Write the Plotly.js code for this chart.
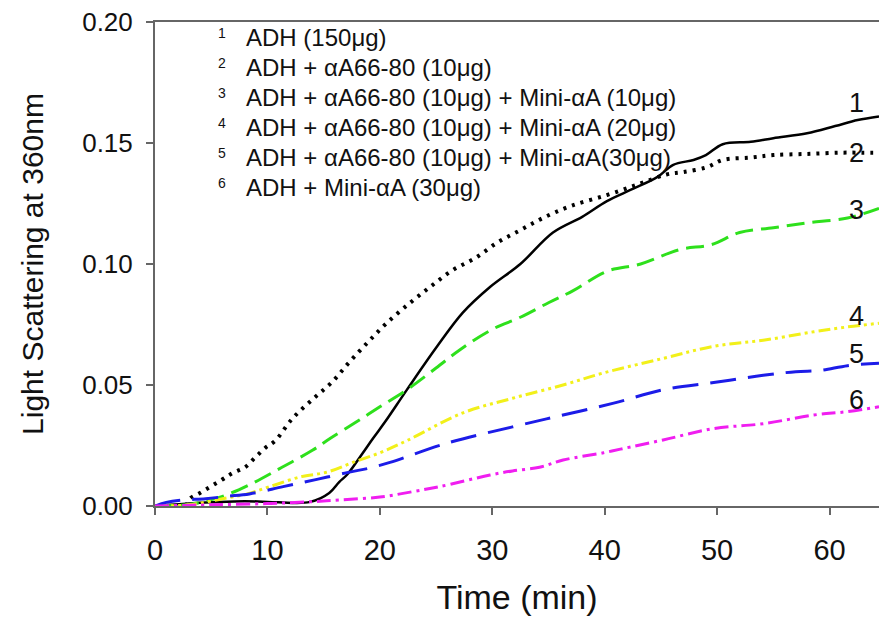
<!DOCTYPE html>
<html>
<head>
<meta charset="utf-8">
<script src="https://cdn.plot.ly/plotly-3.0.1.min.js"></script>
<style>html,body{margin:0;padding:0;background:#fff;}#chart{width:879px;height:617px;}</style>
</head>
<body>
<div id="chart"></div>
<script>
// Series 1: ADH (150µg)
const x1 = [0, 3, 5, 8, 11, 13.8, 15.5, 16.4, 17.1, 18.5, 19.4, 20.5, 22.4, 25.1, 27.4, 29.8, 32.5, 35.4, 38, 40.2, 42.5, 44.7, 46.1, 47.9, 49, 50.5, 53, 55, 58, 60.5, 62.5, 64.4];
const y1 = [0, 0.001, 0.0015, 0.002, 0.0015, 0.0017, 0.0054, 0.010, 0.013, 0.022, 0.028, 0.035, 0.048, 0.066, 0.080, 0.0905, 0.100, 0.113, 0.1195, 0.126, 0.131, 0.136, 0.141, 0.143, 0.145, 0.1495, 0.1505, 0.152, 0.154, 0.157, 0.1595, 0.161];
// Series 2: ADH + αA66-80 (10µg)
const x2 = [2.8, 3.1, 4.0, 5.9, 6.9, 8.0, 8.9, 9.8, 10.7, 12.2, 14.0, 15.7, 17.3, 19.0, 20.7, 22.7, 24.6, 26.5, 28.5, 30.5, 32.5, 34.5, 37, 40.2, 43, 45.5, 47, 49.1, 50.5, 53, 55, 58, 61, 63, 64.4];
const y2 = [0, 0.003, 0.0054, 0.0107, 0.0136, 0.016, 0.020, 0.024, 0.027, 0.036, 0.044, 0.051, 0.0595, 0.068, 0.076, 0.084, 0.091, 0.0975, 0.1025, 0.109, 0.114, 0.119, 0.124, 0.1285, 0.133, 0.137, 0.138, 0.140, 0.143, 0.144, 0.145, 0.1455, 0.146, 0.146, 0.146];
// Series 3
const x3 = [0, 2.2, 3.5, 6, 8.5, 11.3, 14, 15.6, 18, 20, 22.4, 25, 27.1, 30, 32.5, 35, 37.2, 40.2, 43.2, 46.7, 49.5, 52, 55, 58, 61.6, 64.4];
const y3 = [0, 0.0003, 0.001, 0.004, 0.009, 0.016, 0.023, 0.028, 0.035, 0.041, 0.048, 0.057, 0.0645, 0.073, 0.078, 0.084, 0.089, 0.097, 0.100, 0.106, 0.108, 0.113, 0.115, 0.117, 0.119, 0.123];
// Series 4
const x4 = [0, 3, 6, 8.2, 10.2, 12.9, 15.3, 17.6, 20, 22.4, 27.4, 31.8, 36.3, 39.9, 45.2, 49.7, 54.1, 58.6, 61.6, 64.4];
const y4 = [0, 0.0005, 0.003, 0.005, 0.008, 0.012, 0.014, 0.018, 0.022, 0.027, 0.0385, 0.0445, 0.050, 0.055, 0.061, 0.066, 0.0685, 0.072, 0.074, 0.0755];
// Series 5
const x5 = [0, 1, 2.5, 4.5, 6.4, 8.4, 11.4, 14.4, 17.3, 19.1, 20.9, 26, 31.8, 36.3, 40.8, 45.2, 49.7, 54.1, 57, 59.2, 61.6, 64.4];
const y5 = [0, 0.0015, 0.0025, 0.003, 0.004, 0.005, 0.008, 0.011, 0.014, 0.0157, 0.018, 0.026, 0.0327, 0.0376, 0.0425, 0.048, 0.051, 0.054, 0.0555, 0.056, 0.058, 0.059];
// Series 6
const x6 = [0, 5, 10, 14, 16.4, 20, 23, 25.3, 29.8, 31.8, 34.2, 36.3, 39.9, 41.4, 45.2, 49.7, 54.1, 58.6, 61.6, 64.4];
const y6 = [0, 0.0005, 0.001, 0.0018, 0.0025, 0.0037, 0.006, 0.008, 0.0128, 0.0145, 0.016, 0.019, 0.022, 0.0235, 0.0273, 0.032, 0.034, 0.0376, 0.039, 0.041];

const legendNums = ['1', '2', '3', '4', '5', '6'];
const legendTexts = [
  'ADH (150μg)',
  'ADH + αA66-80 (10μg)',
  'ADH + αA66-80 (10μg) + Mini-αA (10μg)',
  'ADH + αA66-80 (10μg) + Mini-αA (20μg)',
  'ADH + αA66-80 (10μg) + Mini-αA(30μg)',
  'ADH + Mini-αA (30μg)'
];
const curveLabels = ['1', '2', '3', '4', '5', '6'];
const curveLabelY = [0.1665, 0.1459, 0.1223, 0.0785, 0.0628, 0.0438];

const FONT = '"Liberation Sans", Arial, sans-serif';

const traces = [
  {x: x1, y: y1, line: {color: '#000000', width: 2.5, dash: 'solid', shape: 'spline'}},
  {x: x2, y: y2, line: {color: '#000000', width: 4, dash: '3px,6px', shape: 'spline'}},
  {x: x3, y: y3, line: {color: '#2ee01c', width: 3, dash: '18px,8px', shape: 'spline'}},
  {x: x4, y: y4, line: {color: '#f2f01a', width: 3, dash: '12px,4px,3px,4px,3px,4px', shape: 'spline'}},
  {x: x5, y: y5, line: {color: '#1c1ce8', width: 3, dash: '26px,12px', shape: 'spline'}},
  {x: x6, y: y6, line: {color: '#f01ef0', width: 3, dash: '14px,5px,3px,5px', shape: 'spline'}}
].map(t => Object.assign({type: 'scatter', mode: 'lines', showlegend: false, hoverinfo: 'skip'}, t));

const annotations = [];
const legY0 = 0.1938, legStep = 0.01245;
legendTexts.forEach((t, i) => {
  annotations.push({x: 7.9, y: legY0 - i * legStep, xref: 'x', yref: 'y', text: t, showarrow: false,
    xanchor: 'left', yanchor: 'middle', font: {family: FONT, size: 24, color: '#111'}});
  annotations.push({x: 6.0, y: legY0 - i * legStep + 0.0018, xref: 'x', yref: 'y', text: legendNums[i], showarrow: false,
    xanchor: 'center', yanchor: 'middle', font: {family: FONT, size: 14, color: '#111'}});
});
curveLabels.forEach((t, i) => {
  annotations.push({x: 62.4, y: curveLabelY[i], xref: 'x', yref: 'y', text: t, showarrow: false,
    xanchor: 'center', yanchor: 'middle', font: {family: FONT, size: 27, color: '#111'}});
});

const layout = {
  width: 879, height: 617,
  margin: {l: 155, r: 0, t: 22, b: 111, pad: 0},
  paper_bgcolor: '#ffffff', plot_bgcolor: '#ffffff',
  font: {family: FONT, color: '#111'},
  xaxis: {
    range: [0, 64.4], tickvals: [0, 10, 20, 30, 40, 50, 60],
    showgrid: false, zeroline: false, showline: true, mirror: true,
    linecolor: '#666', linewidth: 2, ticks: 'outside', ticklen: 7, tickwidth: 2, tickcolor: '#666',
    tickfont: {family: FONT, size: 29, color: '#111'}, ticklabelstandoff: 10,
    title: {text: 'Time (min)', font: {family: FONT, size: 34, color: '#111'}, standoff: 20}
  },
  yaxis: {
    range: [0, 0.2], tickvals: [0, 0.05, 0.1, 0.15, 0.2], tickformat: '.2f',
    showgrid: false, zeroline: false, showline: true, mirror: false,
    linecolor: '#666', linewidth: 2, ticks: 'outside', ticklen: 7, tickwidth: 2, tickcolor: '#666',
    tickfont: {family: FONT, size: 26, color: '#111'}, ticklabelstandoff: 8,
    title: {text: 'Light Scattering at 360nm', font: {family: FONT, size: 30, color: '#111'}, standoff: 30}
  },
  annotations: annotations
};

Plotly.newPlot('chart', traces, layout, {displayModeBar: false, staticPlot: true});
</script>
</body>
</html>
